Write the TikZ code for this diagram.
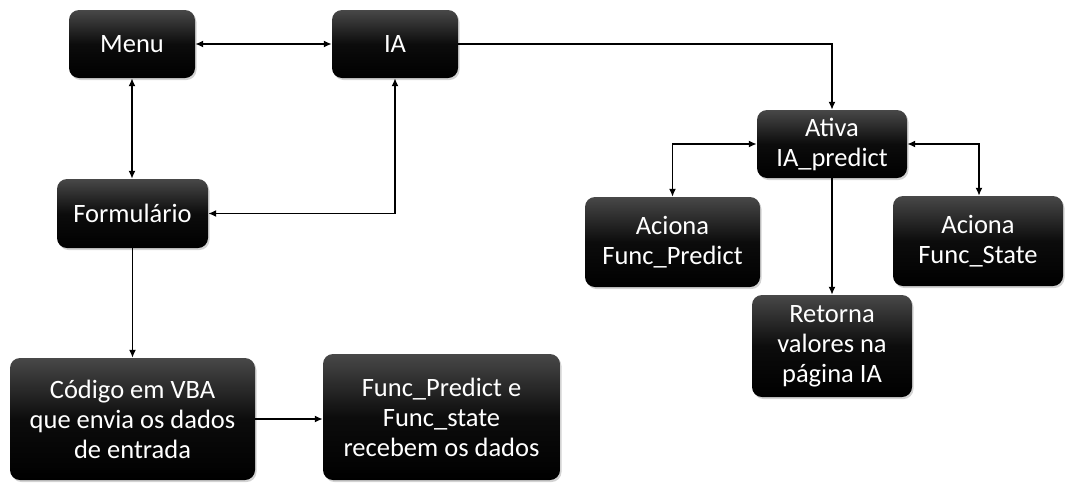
\documentclass[tikz,border=0pt]{standalone}
\usepackage{fontspec}
\setmainfont{Carlito}
\usetikzlibrary{arrows.meta,shadows}

\tikzset{
  box/.style={rectangle, rounded corners=10pt, top color={rgb,255:red,72;green,72;blue,72},
    bottom color=black, middle color={rgb,255:red,12;green,12;blue,12},
    draw=none, text=white, align=center,
    font=\fontsize{26.5}{30}\selectfont, inner sep=0pt,
    drop shadow={opacity=0.35, shadow xshift=1.5pt, shadow yshift=-2pt}},
  link/.style={line width=1.8pt, -{Latex[length=8pt,width=7pt]}},
  dlink/.style={line width=1.8pt, {Latex[length=8pt,width=7pt]}-{Latex[length=8pt,width=7pt]}}
}

\begin{document}
\begin{tikzpicture}[x=1pt,y=-1pt]
  \useasboundingbox (0,0) rectangle (1065,483);

  % left column
  \node[box, minimum width=126pt, minimum height=68pt] (menu) at (132,44) {Menu};
  \node[box, minimum width=126pt, minimum height=68pt] (ia) at (395,44) {IA};
  \node[box, minimum width=151pt, minimum height=69pt] (form) at (132.5,213.5) {Formulário};
  \node[box, minimum width=245pt, minimum height=122pt] (vba) at (132.5,419) {Código em VBA\\que envia os dados\\de entrada};
  \node[box, minimum width=237pt, minimum height=126pt] (recv) at (441.5,417) {Func\_Predict e\\Func\_state\\recebem os dados};

  % right branch
  \node[box, minimum width=150pt, minimum height=68pt] (ativa) at (832,144) {Ativa\\IA\_predict};
  \node[box, minimum width=175pt, minimum height=90pt] (pred) at (672.5,242) {Aciona\\Func\_Predict};
  \node[box, minimum width=170pt, minimum height=90pt] (state) at (978,241) {Aciona\\Func\_State};
  \node[box, minimum width=160pt, minimum height=102pt] (ret) at (832,346) {Retorna\\valores na\\página IA};

  % connectors
  \draw[dlink] (menu) -- (ia);
  \draw[dlink] (menu.south) -- (form.north -| menu.south);
  \draw[dlink] (ia.south) |- (form.east);
  \draw[link] (form.south) -- (vba.north);
  \draw[link] (vba.east) -- (vba.east -| recv.west);
  \draw[link] (ia.east) -| (ativa.north);
  \draw[dlink] (ativa.west) -| (pred.north);
  \draw[dlink] (ativa.east) -| ([xshift=1pt]state.north);
  \draw[link] (ativa.south) -- (ret.north);
\end{tikzpicture}
\end{document}
